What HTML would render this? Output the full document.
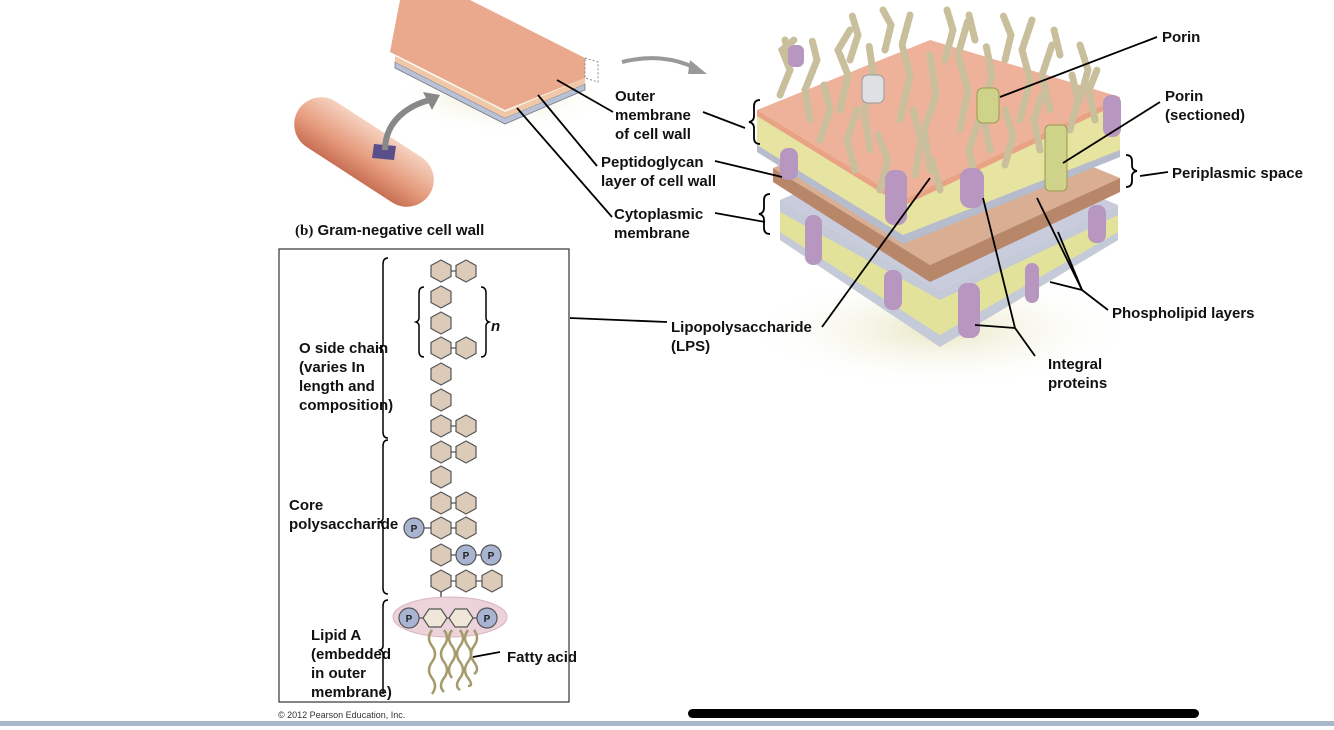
<!DOCTYPE html>
<html><head><meta charset="utf-8"><style>
body{margin:0;width:1334px;height:730px;background:#fff;overflow:hidden;position:relative;font-family:"Liberation Sans",Arial,sans-serif}
svg{position:absolute;left:0;top:0}
</style></head><body>
<svg width="1334" height="730" viewBox="0 0 1334 730">
<defs>
<radialGradient id="sh" cx="0.5" cy="0.5" r="0.5"><stop offset="0" stop-color="#e8e6c4"/><stop offset="1" stop-color="#fff" stop-opacity="0"/></radialGradient>
<linearGradient id="cap" x1="0" y1="0" x2="0" y2="1"><stop offset="0" stop-color="#f6d2c0"/><stop offset="0.6" stop-color="#e59a7c"/><stop offset="1" stop-color="#c86f55"/></linearGradient>
<polygon id="hx" points="0,-11 10,-5.5 10,5.5 0,11 -10,5.5 -10,-5.5" fill="#dccbb8" stroke="#555" stroke-width="1.2"/>
<polygon id="hw" points="-12,-9 0,-9 6,0 0,9 -12,9 -18,0" fill="#eee6d6" stroke="#555" stroke-width="1.2"/>
</defs>

<ellipse cx="500" cy="95" rx="110" ry="40" fill="url(#sh)"/>
<polygon points="395,62 505,118 585,84 585,90 505,124 395,68" fill="#b9c1d6" stroke="#778" stroke-width="0.8"/>
<polygon points="395,56 505,112 585,78 585,84 505,118 395,62" fill="#f0c8a8"/>
<polygon points="400,0 470,0 585,58 585,78 505,110 390,52" fill="#eaa88c"/>
<polygon points="585,58 598,62 598,82 585,78" fill="none" stroke="#888" stroke-dasharray="2,2"/>
<g transform="translate(364,152) rotate(33)">
<rect x="-78" y="-27" width="156" height="54" rx="27" fill="url(#cap)"/>
</g>
<polygon points="374,144 396,146 394,160 372,158" fill="#5a4f8a"/>
<path d="M385,150 C385,120 410,105 430,100" fill="none" stroke="#888" stroke-width="6"/>
<polygon points="440,95 423,92 432,110" fill="#888"/>
<path d="M622,62 C650,55 675,58 695,68" fill="none" stroke="#999" stroke-width="4"/>
<polygon points="707,74 690,60 688,74" fill="#999"/>

<ellipse cx="940" cy="330" rx="200" ry="60" fill="url(#sh)"/>
<polygon points="780,200 940,290 1118,205 1118,240 940,347 780,240" fill="#e3e29a"/>
<polygon points="780,200 940,290 1118,205 1118,215 940,300 780,212" fill="#c5cad8"/>
<polygon points="780,232 940,335 1118,232 1118,240 940,347 780,240" fill="#c5cad8"/>
<polygon points="780,200 940,130 1118,205 940,290" fill="#c9ccdc"/>
<polygon points="773,168 930,265 1120,178 1120,192 930,282 773,182" fill="#b8876a"/>
<polygon points="773,168 930,100 1120,178 930,265" fill="#d9ae92"/>
<polygon points="757,110 903,200 1120,97 1120,155 903,242 757,150" fill="#e6e4a0"/>
<polygon points="757,145 903,235 1120,150 1120,157 903,244 757,152" fill="#b6bccc"/>
<polygon points="757,110 930,40 1120,97 903,200" fill="#eeb29a"/>
<polygon points="757,110 903,200 1120,97 1120,103 903,206 757,116" fill="#e9a284"/>
<g stroke="#c9bf9c" stroke-width="7" fill="none" stroke-linecap="round" stroke-dasharray="4,2">
<path d="M780,95 l10,-25 l-8,-20 l12,-10"/><path d="M810,120 l-5,-30 l12,-30 l-5,-20"/>
<path d="M840,110 l8,-35 l-10,-25 l12,-20"/><path d="M870,150 l-6,-40 l10,-30 l-5,-35"/>
<path d="M900,120 l10,-45 l-8,-30 l8,-30"/><path d="M930,170 l-6,-40 l12,-35 l-6,-40"/>
<path d="M960,130 l8,-40 l-10,-35 l10,-35"/><path d="M990,150 l-8,-40 l10,-35 l-6,-30"/>
<path d="M1020,120 l10,-40 l-8,-30 l10,-30"/><path d="M1050,110 l-8,-35 l10,-30"/>
<path d="M1080,100 l8,-30 l-8,-25"/><path d="M880,190 l8,-30 l-10,-25"/><path d="M940,190 l-8,-30"/>
<path d="M820,140 l10,-30 l-6,-25"/><path d="M855,170 l-8,-30 l10,-30"/><path d="M915,175 l6,-35 l-8,-30"/>
<path d="M975,180 l-6,-30 l10,-30"/><path d="M1005,165 l8,-30 l-8,-25"/><path d="M1040,150 l-6,-30 l8,-25"/>
<path d="M1070,130 l8,-30 l-6,-25"/><path d="M1095,120 l-6,-30 l8,-20"/><path d="M790,60 l-5,-20"/>
<path d="M850,60 l8,-25 l-6,-20"/><path d="M885,50 l6,-25 l-8,-15"/><path d="M945,60 l8,-30 l-6,-20"/>
<path d="M975,40 l-6,-25"/><path d="M1005,60 l6,-25 l-8,-20"/><path d="M1060,55 l-6,-25"/>
</g>
<g fill="#b797bf">
<rect x="780" y="148" width="18" height="32" rx="8"/><rect x="885" y="170" width="22" height="55" rx="9"/>
<rect x="960" y="168" width="24" height="40" rx="10"/><rect x="1103" y="95" width="18" height="42" rx="8"/>
<rect x="805" y="215" width="17" height="50" rx="8"/><rect x="884" y="270" width="18" height="40" rx="8"/>
<rect x="958" y="283" width="22" height="55" rx="9"/><rect x="1025" y="263" width="14" height="40" rx="7"/>
<rect x="1088" y="205" width="18" height="38" rx="8"/><rect x="788" y="45" width="16" height="22" rx="6"/>
</g>
<rect x="862" y="75" width="22" height="28" rx="6" fill="#dfe0e3" stroke="#999"/>
<rect x="977" y="88" width="22" height="35" rx="6" fill="#cfd38a" stroke="#9a9a50"/>
<rect x="1045" y="125" width="22" height="66" rx="5" fill="#cfd38a" stroke="#9a9a50"/>

<g stroke="#000" stroke-width="1.8" fill="none">
<line x1="613" y1="112" x2="557" y2="80"/><line x1="597" y1="166" x2="538" y2="95"/><line x1="612" y1="217" x2="517" y2="108"/>
<line x1="703" y1="112" x2="745" y2="128"/><line x1="715" y1="161" x2="782" y2="177"/><line x1="715" y1="213" x2="765" y2="222"/>
<line x1="1157" y1="37" x2="1000" y2="97"/><line x1="1160" y1="102" x2="1063" y2="163"/><line x1="1168" y1="172" x2="1140" y2="176"/>
<line x1="570" y1="318" x2="667" y2="322"/><line x1="822" y1="327" x2="930" y2="178"/>
<line x1="1108" y1="310" x2="1082" y2="290"/><line x1="1082" y1="290" x2="1037" y2="198"/><line x1="1082" y1="290" x2="1058" y2="232"/><line x1="1082" y1="290" x2="1050" y2="282"/>
<line x1="1035" y1="356" x2="1015" y2="328"/><line x1="1015" y1="328" x2="983" y2="198"/><line x1="1015" y1="328" x2="975" y2="325"/>
<line x1="473" y1="657" x2="500" y2="652"/>
<path d="M760,100 q-6,0 -6,6 v10 q0,5 -5,6 q5,1 5,6 v10 q0,6 6,6"/>
<path d="M770,194 q-6,0 -6,6 v8 q0,5 -5,6 q5,1 5,6 v8 q0,6 6,6"/>
<path d="M1126,155 q6,0 6,6 v5 q0,4 5,5 q-5,1 -5,5 v5 q0,6 -6,6"/>
</g>
<g font-family="Liberation Sans, Arial, sans-serif" font-weight="bold" font-size="15" fill="#111">
<text x="615" y="101">Outer</text><text x="615" y="120">membrane</text><text x="615" y="139">of cell wall</text>
<text x="601" y="167">Peptidoglycan</text><text x="601" y="186">layer of cell wall</text>
<text x="614" y="219">Cytoplasmic</text><text x="614" y="238">membrane</text>
<text x="1162" y="42">Porin</text><text x="1165" y="101">Porin</text><text x="1165" y="120">(sectioned)</text>
<text x="1172" y="178">Periplasmic space</text><text x="1112" y="318">Phospholipid layers</text>
<text x="1048" y="369">Integral</text><text x="1048" y="388">proteins</text>
<text x="671" y="332">Lipopolysaccharide</text><text x="671" y="351">(LPS)</text>
<text x="295" y="235" font-size="15"><tspan font-family="Liberation Serif, serif">(b)</tspan> Gram-negative cell wall</text>
<text x="299" y="353">O side chain</text><text x="299" y="372">(varies In</text><text x="299" y="391">length and</text><text x="299" y="410">composition)</text>
<text x="289" y="510">Core</text><text x="289" y="529">polysaccharide</text>
<text x="311" y="640">Lipid A</text><text x="311" y="659">(embedded</text><text x="311" y="678">in outer</text><text x="311" y="697">membrane)</text>
<text x="507" y="662">Fatty acid</text>
<text x="491" y="331" font-style="italic">n</text>
</g>
<text x="278" y="718" font-family="Liberation Sans, Arial, sans-serif" font-size="9" fill="#333">© 2012 Pearson Education, Inc.</text>

<rect x="279" y="249" width="290" height="453" fill="none" stroke="#333" stroke-width="1.2"/>
<g stroke="#000" stroke-width="1.5" fill="none">
<path d="M388,258 q-5,0 -5,6 v80 q0,3 -3,4 q3,1 3,4 v80 q0,6 5,6"/>
<path d="M388,440 q-5,0 -5,6 v72 q0,3 -3,4 q3,1 3,4 v62 q0,6 5,6"/>
<path d="M388,600 q-5,0 -5,6 v40 q0,3 -3,4 q3,1 3,4 v40"/>
<path d="M424,287 q-5,0 -5,6 v25 q0,3 -3,4 q3,1 3,4 v25 q0,6 5,6"/>
<path d="M481,287 q5,0 5,6 v25 q0,3 3,4 q-3,1 -3,4 v25 q0,6 -5,6"/>
</g>
<line x1="441" y1="580" x2="441" y2="608" stroke="#555" stroke-width="1.5"/>
<ellipse cx="450" cy="617" rx="57" ry="20" fill="#ecd3da" stroke="#d9b5c0"/>
<g stroke="#a59a6c" stroke-width="2.5" fill="none">
<path d="M432,630 q-6,8 0,16 q6,8 0,16 q-6,8 0,16 q6,8 0,16"/>
<path d="M444,630 q6,8 0,16 q-6,8 0,16 q6,8 0,16 q-6,8 0,14"/>
<path d="M452,630 q-6,8 0,16 q6,8 0,16 q-6,8 0,16"/>
<path d="M460,630 q6,8 0,16 q-6,8 0,16 q6,8 0,16 q-6,8 0,12"/>
<path d="M468,630 q-6,8 0,16 q6,8 0,16 q-6,8 0,16 q6,8 0,8"/>
<path d="M474,630 q6,8 0,16 q-6,8 0,16 q6,8 0,12"/>
</g>
<g stroke="#555" stroke-width="1.2">
<line x1="441" y1="271" x2="466" y2="271"/><line x1="441" y1="348" x2="466" y2="348"/><line x1="441" y1="426" x2="466" y2="426"/>
<line x1="441" y1="452" x2="466" y2="452"/><line x1="441" y1="503" x2="466" y2="503"/><line x1="441" y1="528" x2="466" y2="528"/>
<line x1="414" y1="528" x2="441" y2="528"/><line x1="441" y1="555" x2="491" y2="555"/><line x1="441" y1="581" x2="492" y2="581"/>
<line x1="409" y1="618" x2="487" y2="618"/>
</g>
<use href="#hx" x="441" y="271"/><use href="#hx" x="466" y="271"/>
<use href="#hx" x="441" y="297"/><use href="#hx" x="441" y="323"/><use href="#hx" x="441" y="348"/><use href="#hx" x="466" y="348"/>
<use href="#hx" x="441" y="374"/><use href="#hx" x="441" y="400"/><use href="#hx" x="441" y="426"/><use href="#hx" x="466" y="426"/>
<use href="#hx" x="441" y="452"/><use href="#hx" x="466" y="452"/><use href="#hx" x="441" y="477"/>
<use href="#hx" x="441" y="503"/><use href="#hx" x="466" y="503"/><use href="#hx" x="441" y="528"/><use href="#hx" x="466" y="528"/>
<use href="#hx" x="441" y="555"/><use href="#hx" x="441" y="581"/><use href="#hx" x="466" y="581"/><use href="#hx" x="492" y="581"/>
<use href="#hw" x="441" y="618"/><use href="#hw" x="467" y="618"/>
<g fill="#a7b4d2" stroke="#555" stroke-width="1.2">
<circle cx="414" cy="528" r="10"/><circle cx="466" cy="555" r="10"/><circle cx="491" cy="555" r="10"/>
<circle cx="409" cy="618" r="10"/><circle cx="487" cy="618" r="10"/>
</g>
<g font-family="Liberation Sans, Arial, sans-serif" font-weight="bold" font-size="10" fill="#222" text-anchor="middle">
<text x="414" y="532">P</text><text x="466" y="559">P</text><text x="491" y="559">P</text><text x="409" y="622">P</text><text x="487" y="622">P</text>
</g>

<rect x="0" y="721" width="1334" height="5" fill="#a9b7cb"/>
<rect x="688" y="709" width="511" height="9" rx="4.5" fill="#000"/>
</svg>
</body></html>
